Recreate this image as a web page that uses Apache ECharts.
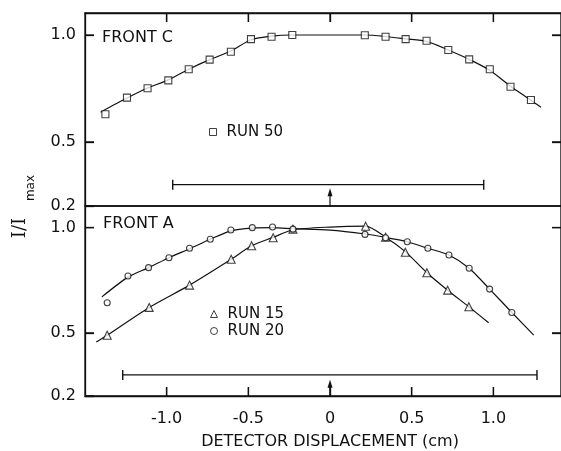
<!DOCTYPE html>
<html lang="en">
<head>
    <meta charset="utf-8" />
    <title>Front C / Front A profiles</title>
    <style>
        html,
        body,
        #chart {
            width: 100%;
            height: 100%;
            margin: 0;
            padding: 0;
            overflow: hidden;
            background: #fff;
        }
    </style>
</head>
<body>
    <div id="chart"></div>
    <script src="https://cdn.jsdelivr.net/npm/echarts@6/dist/echarts.min.js"></script>
    <script>
        // axis ranges and tick values
        var xMin = -1.5, xMax = 1.414;
        var yMin = 0.2, yMax = 1.103;
        var xTicks = [-1.0, -0.5, 0, 0.5, 1.0];
        var yTicks = [0.2, 0.5, 1.0];
        var rightTicks = [0.5, 1.0];

        // FRONT C, run 50 (squares) and the fitted curve
        var run50 = [[-1.375, 0.629], [-1.243, 0.707], [-1.117, 0.751], [-0.990, 0.788], [-0.865, 0.840],
            [-0.737, 0.885], [-0.607, 0.922], [-0.484, 0.981], [-0.358, 0.992], [-0.231, 1.0],
            [0.213, 0.999], [0.340, 0.992], [0.463, 0.981], [0.591, 0.973], [0.724, 0.930],
            [0.852, 0.886], [0.978, 0.840], [1.105, 0.758], [1.230, 0.696]];
        var fit50 = [[-1.405, 0.639], [-1.243, 0.705], [-1.117, 0.752], [-0.990, 0.790], [-0.865, 0.840],
            [-0.737, 0.885], [-0.607, 0.925], [-0.484, 0.978], [-0.358, 0.995], [-0.231, 1.0],
            [0.213, 1.0], [0.340, 0.993], [0.463, 0.982], [0.591, 0.970], [0.724, 0.930],
            [0.852, 0.886], [0.978, 0.835], [1.105, 0.760], [1.230, 0.695], [1.291, 0.662]];

        // FRONT A, run 15 (triangles) and run 20 (circles)
        var run15 = [[-1.364, 0.489], [-1.107, 0.621], [-0.860, 0.727], [-0.605, 0.850], [-0.480, 0.914],
            [-0.348, 0.952], [-0.227, 0.993], [0.218, 1.007], [0.340, 0.955], [0.461, 0.883],
            [0.593, 0.786], [0.720, 0.703], [0.850, 0.624]];
        var fit15 = [[-1.431, 0.457], [-1.364, 0.489], [-1.107, 0.621], [-0.860, 0.727], [-0.605, 0.850],
            [-0.480, 0.914], [-0.348, 0.954], [-0.227, 0.990], [0.0, 1.003], [0.218, 1.007],
            [0.340, 0.955], [0.461, 0.886], [0.593, 0.786], [0.720, 0.703], [0.850, 0.624], [0.971, 0.548]];
        var run20 = [[-1.364, 0.643], [-1.237, 0.770], [-1.111, 0.810], [-0.986, 0.857], [-0.860, 0.902],
            [-0.733, 0.945], [-0.607, 0.989], [-0.476, 1.0], [-0.352, 1.003], [-0.227, 0.993],
            [0.214, 0.968], [0.340, 0.952], [0.473, 0.933], [0.599, 0.902], [0.728, 0.870],
            [0.852, 0.807], [0.977, 0.708], [1.113, 0.597]];
        var fit20 = [[-1.397, 0.671], [-1.237, 0.765], [-1.111, 0.810], [-0.986, 0.857], [-0.860, 0.900],
            [-0.733, 0.945], [-0.607, 0.985], [-0.476, 0.998], [-0.352, 1.0], [-0.227, 0.995],
            [0.0, 0.988], [0.214, 0.970], [0.340, 0.954], [0.473, 0.933], [0.599, 0.902],
            [0.728, 0.870], [0.852, 0.807], [0.977, 0.708], [1.113, 0.597], [1.247, 0.489]];

        // horizontal range bars and the arrows at zero
        var barC = [[-0.963, 0.30], [0.941, 0.30]];
        var barA = [[-1.269, 0.30], [1.267, 0.30]];
        var arrowC = [[0, 0.2], [0, 0.264]];
        var arrowA = [[0, 0.2], [0, 0.258]];

        var ink = '#111';
        var font = 'DejaVu Sans';

        function xAxisOf(grid, pos, labels) {
            return {
                type: 'value', gridIndex: grid, position: pos, min: xMin, max: xMax,
                axisLine: { show: true, onZero: false, lineStyle: { color: ink, width: 1.3 } },
                splitLine: { show: false },
                axisTick: { show: true, inside: true, length: 9, customValues: xTicks, lineStyle: { color: ink, width: 1.3 } },
                axisLabel: {
                    show: labels, customValues: xTicks, margin: 15, color: ink, fontSize: 16, fontFamily: font,
                    formatter: function (v) { return v === 0 ? '0' : v.toFixed(1); }
                }
            };
        }
        function yAxisOf(grid, pos, labels) {
            return {
                type: 'value', gridIndex: grid, position: pos, min: yMin, max: yMax,
                axisLine: { show: true, onZero: false, lineStyle: { color: ink, width: 1.3 } },
                splitLine: { show: false },
                axisTick: { show: true, inside: true, length: 9, customValues: labels ? yTicks : rightTicks, lineStyle: { color: ink, width: 1.3 } },
                axisLabel: {
                    show: labels, customValues: yTicks, margin: 9, color: ink, fontSize: 16, fontFamily: font,
                    formatter: function (v) { return v.toFixed(1); }
                }
            };
        }
        // inward tick marks drawn through the axes' own scales
        function tickMarks(yi, data, dx, dy) {
            return {
                type: 'custom', xAxisIndex: yi === 0 ? 0 : 1, yAxisIndex: yi, data: data,
                silent: true, clip: false, z: 5,
                renderItem: function (params, api) {
                    var p = api.coord([api.value(0), api.value(1)]);
                    return {
                        type: 'line',
                        shape: { x1: p[0], y1: p[1], x2: p[0] + dx, y2: p[1] + dy },
                        style: { stroke: ink, lineWidth: 1.3 }
                    };
                }
            };
        }
        function fitLine(name, data, yi) {
            return {
                type: 'line', name: name, xAxisIndex: yi === 0 ? 0 : 1, yAxisIndex: yi, data: data,
                smooth: 0.25, symbol: 'none', z: 2,
                lineStyle: { color: ink, width: 1.2 }
            };
        }
        function points(name, data, yi, symbol, size) {
            return {
                type: 'scatter', name: name, xAxisIndex: yi === 0 ? 0 : 1, yAxisIndex: yi, data: data,
                symbol: symbol, symbolSize: size, z: 4,
                itemStyle: { color: '#fff', borderColor: ink, borderWidth: 1.1 }
            };
        }
        function rangeBar(name, data, yi) {
            return {
                type: 'line', name: name, xAxisIndex: yi === 0 ? 0 : 1, yAxisIndex: yi, data: data,
                symbol: 'rect', symbolSize: [1.4, 10], z: 2,
                itemStyle: { color: ink }, lineStyle: { color: ink, width: 1.2 }
            };
        }
        function arrow(name, data, yi) {
            return {
                type: 'line', name: name, xAxisIndex: yi === 0 ? 0 : 1, yAxisIndex: yi, z: 2,
                data: [{ value: data[0], symbol: 'none' }, { value: data[1], symbol: 'triangle', symbolSize: [5, 8] }],
                itemStyle: { color: ink }, lineStyle: { color: ink, width: 1.2 }
            };
        }

        var chart = echarts.init(document.getElementById('chart'));
        var legendText = { color: ink, fontSize: 15, fontFamily: font, lineHeight: 16, padding: [0, 0, 0, 5] };
        var legendItem = { color: '#fff', borderColor: ink, borderWidth: 1 };
        var option = {
            animation: false,
            grid: [
                { left: 85, top: 13, width: 480, height: 193, show: true, borderColor: ink, borderWidth: 1.3 },
                { left: 85, top: 206, width: 480, height: 190, show: true, borderColor: ink, borderWidth: 1.3 }
            ],
            xAxis: [xAxisOf(0, 'top', false), xAxisOf(1, 'bottom', true)],
            yAxis: [yAxisOf(0, 'left', true), yAxisOf(0, 'right', false), yAxisOf(1, 'left', true), yAxisOf(1, 'right', false)],
            legend: [
                {
                    data: ['RUN 50'], left: 209, top: 124, padding: 0,
                    itemWidth: 7, itemHeight: 7, textStyle: legendText, itemStyle: legendItem
                },
                {
                    data: ['RUN 15', 'RUN 20'], orient: 'vertical', left: 210, top: 306, padding: 0, itemGap: 1,
                    itemWidth: 7, itemHeight: 7, textStyle: legendText, itemStyle: legendItem
                }
            ],
            graphic: [
                { type: 'text', x: 102, y: 38, style: { text: 'FRONT C', fill: ink, font: '16px "DejaVu Sans"', verticalAlign: 'middle' } },
                { type: 'text', x: 103, y: 224, style: { text: 'FRONT A', fill: ink, font: '16px "DejaVu Sans"', verticalAlign: 'middle' } },
                { type: 'text', x: 330, y: 442, style: { text: 'DETECTOR DISPLACEMENT (cm)', fill: ink, font: '16px "DejaVu Sans"', align: 'center', verticalAlign: 'middle' } },
                { type: 'text', x: 20, y: 228, rotation: Math.PI / 2, style: { text: 'I/I', fill: ink, font: '18px "DejaVu Serif"', align: 'center', verticalAlign: 'middle' } },
                { type: 'text', x: 31, y: 188, rotation: Math.PI / 2, style: { text: 'max', fill: ink, font: '12px "DejaVu Sans"', align: 'center', verticalAlign: 'middle' } }
            ],
            series: [
                tickMarks(0, xTicks.map(function (v) { return [v, yMax]; }), 0, 9),
                tickMarks(0, yTicks.map(function (v) { return [xMin, v]; }), 9, 0),
                tickMarks(0, rightTicks.map(function (v) { return [xMax, v]; }), -9, 0),
                tickMarks(2, xTicks.map(function (v) { return [v, yMin]; }), 0, -9),
                tickMarks(2, yTicks.map(function (v) { return [xMin, v]; }), 9, 0),
                tickMarks(2, rightTicks.map(function (v) { return [xMax, v]; }), -9, 0),
                fitLine('fit 50', fit50, 0),
                points('RUN 50', run50, 0, 'rect', 7),
                rangeBar('bar C', barC, 0),
                arrow('arrow C', arrowC, 0),
                fitLine('fit 15', fit15, 2),
                fitLine('fit 20', fit20, 2),
                points('RUN 15', run15, 2, 'triangle', 8),
                points('RUN 20', run20, 2, 'circle', 6),
                rangeBar('bar A', barA, 2),
                arrow('arrow A', arrowA, 2)
            ]
        };
        chart.setOption(option);
    </script>
</body>
</html>
